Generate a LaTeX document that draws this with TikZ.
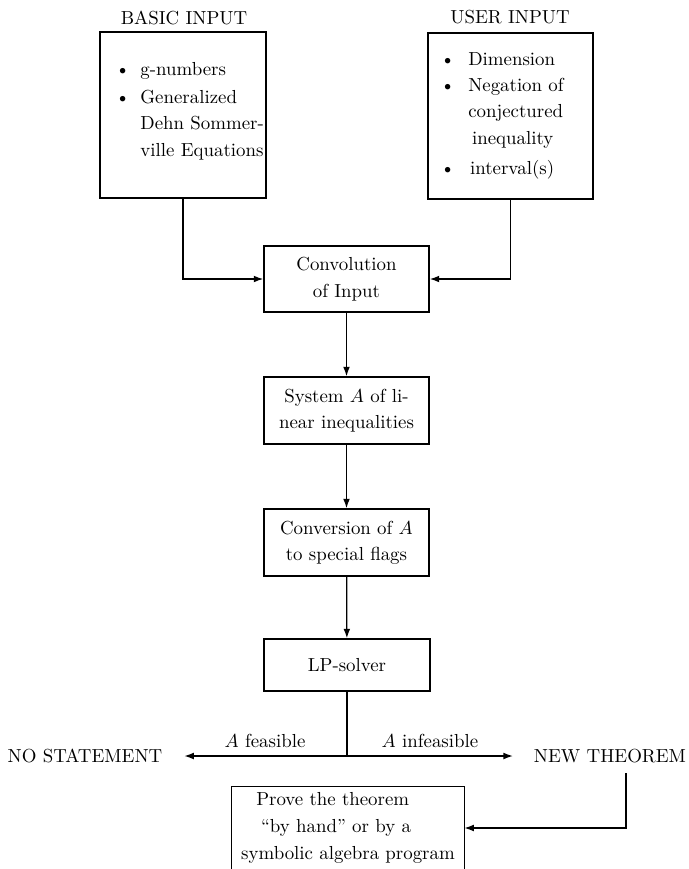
\documentclass[tikz,border=0pt]{standalone}
\usetikzlibrary{arrows.meta}
\begin{document}
\begin{tikzpicture}[x=0.53pt,y=-0.53pt,
  box/.style={draw, line width=0.8pt, inner sep=0pt, align=center,
    font=\fontsize{10}{14}\selectfont},
  boxline/.style={line width=0.8pt},
  txt/.style={inner sep=0pt, font=\fontsize{10}{14}\selectfont},
  lbl/.style={inner sep=0pt, font=\fontsize{10}{12}\selectfont},
  conn/.style={line width=0.65pt},
  arr/.style={conn, -{Latex[length=5pt,width=3.6pt]}}]
\useasboundingbox (0,0) rectangle (689,869);

% headings
\node[lbl] (basiclbl) at (184,17.5) {BASIC INPUT};
\node[lbl] (userlbl) at (510,17.5) {USER INPUT};

% input boxes
\node[box, minimum width=88pt, minimum height=88pt] (basic) at (183,115) {};
\node[txt, anchor=base west] (basictext) at (115,75)
  {\begin{tabular}[t]{@{}l@{\hspace{5.5pt}}l@{}}
   \textbullet & g-numbers\\[1pt]
   \textbullet & Generalized\\
               & Dehn Sommer-\\
               & ville Equations
   \end{tabular}};

\node[box, minimum width=87.5pt, minimum height=88pt] (user) at (510.5,116) {};
\node[txt, anchor=base west] (usertext) at (440,65)
  {\begin{tabular}[t]{@{}l@{\hspace{7pt}}l@{}}
   \textbullet & Dimension\\
   \textbullet & Negation of\\
               & conjectured\\
               & \hspace{2pt}inequality\\[2pt]
   \textbullet & \hspace{1pt}interval(s)
   \end{tabular}};

% main chain
\node[box, minimum width=87.5pt, minimum height=35pt] (conv) at (346.5,279)
  {Convolution\\of Input};
\node[box, minimum width=87.5pt, minimum height=35.5pt] (system) at (346.5,410.5)
  {System $A$ of li-\\near inequalities};
\node[box, minimum width=87.5pt, minimum height=35.5pt] (convers) at (346.5,542.5)
  {Conversion of $A$\\to special flags};
\node[box, minimum width=88pt, minimum height=27.6pt] (lp) at (347,665)
  {LP-solver};

% outcomes
\node[lbl] (nostat) at (85,756) {NO STATEMENT};
\node[lbl] (newthm) at (610,756) {NEW THEOREM};
\node[lbl] (feas) at (265,740.5) {$A$ feasible};
\node[lbl] (infeas) at (430,740.5) {$A$ infeasible};

% proof box (open at the bottom edge of the picture)
\node[txt, align=left, minimum width=123pt, minimum height=43.5pt,
      font=\fontsize{10}{14.3}\selectfont] (prove) at (348,828)
  {\hspace*{8pt}Prove the theorem\\
   \hspace*{10.5pt}``by hand'' or by a\\
   symbolic algebra program};
\draw[boxline] (prove.south west) -- (prove.north west)
  -- (prove.north east) -- (prove.south east);

% connectors
\draw[arr] (basic.south) |- (conv.west);
\draw[arr] (user.south) |- (conv.east);
\draw[arr] (conv) -- (system);
\draw[arr] (system) -- (convers);
\draw[arr] (convers) -- (lp);
\coordinate (split) at (lp.south |- nostat.east);
\draw[conn] (lp.south) -- (split);
\draw[arr, shorten >=11.5pt] (split) -- (nostat.east);
\draw[arr, shorten >=11pt] (split) -- (newthm.west);
\draw[arr] ([shift={(16,17)}]newthm.center) |- (prove.east);
\end{tikzpicture}
\end{document}
